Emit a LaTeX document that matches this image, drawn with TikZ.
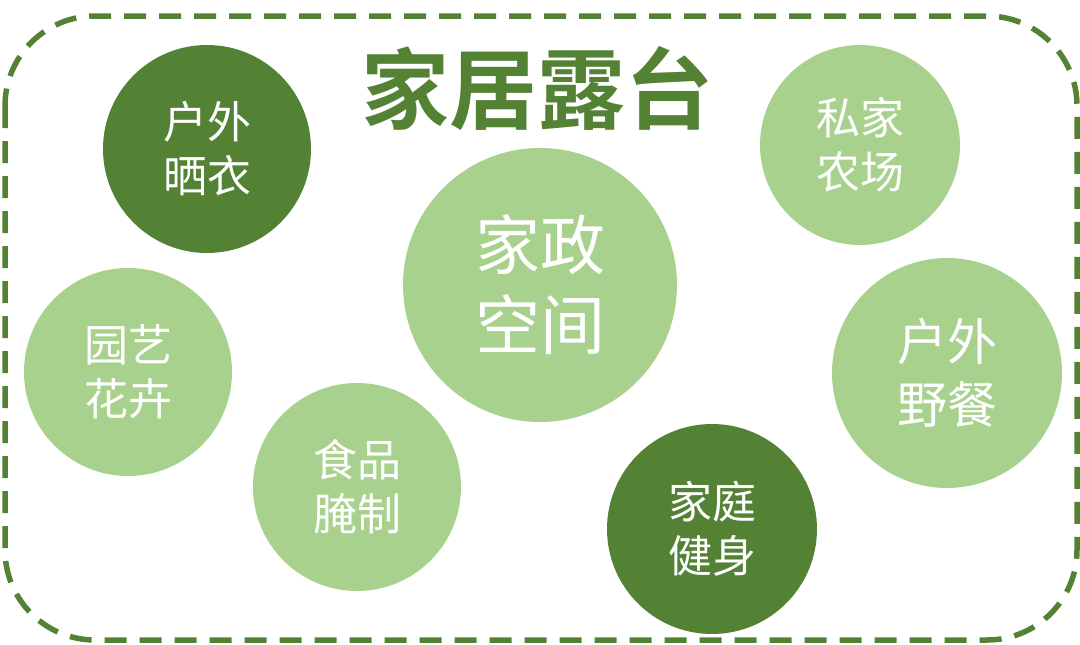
\documentclass[tikz,border=0pt]{standalone}
\usepackage{fontspec}
\newfontfamily\cjk{Noto Sans CJK SC}
\newfontfamily\cjkbold{Noto Sans CJK SC Bold}
\definecolor{dkgreen}{HTML}{548235}
\definecolor{ltgreen}{HTML}{A9D18E}
\tikzset{
  bubble/.style={circle, inner sep=0pt, text=white, align=center},
  small/.style={font=\cjk\fontsize{44}{54}\selectfont},
}
\begin{document}
\begin{tikzpicture}[x=1pt,y=-1pt]
\useasboundingbox (0,0) rectangle (1080,645);
\draw[dkgreen, line width=5.5pt, dash pattern=on 22pt off 13pt, rounded corners=90pt] (5,16) rectangle (1077,640);
\node[text=dkgreen, font=\cjkbold\fontsize{88}{88}\selectfont] (title) at (537,88) {家居露台};
\node[bubble, small, fill=dkgreen, minimum size=208pt] (c1) at (207,149) {户外\\晒衣};
\node[bubble, small, fill=ltgreen, minimum size=200pt] (c2) at (860,145) {私家\\农场};
\node[bubble, fill=ltgreen, minimum size=274pt, font=\cjk\fontsize{65}{80}\selectfont] (c3) at (540,285) {家政\\空间};
\node[bubble, small, fill=ltgreen, minimum size=208pt] (c4) at (128,372) {园艺\\花卉};
\node[bubble, fill=ltgreen, minimum size=230pt, font=\cjk\fontsize{50}{63}\selectfont] (c5) at (947,373) {户外\\野餐};
\node[bubble, small, fill=ltgreen, minimum size=208pt] (c6) at (357,487) {食品\\腌制};
\node[bubble, small, fill=dkgreen, minimum size=210pt] (c7) at (712,529) {家庭\\健身};
\end{tikzpicture}
\end{document}
